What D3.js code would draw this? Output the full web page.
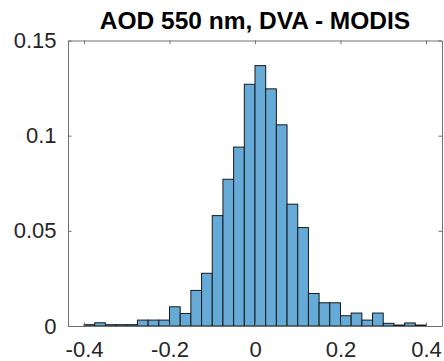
<!DOCTYPE html>
<html>
<head>
<meta charset="utf-8">
<script src="https://cdn.jsdelivr.net/npm/d3@7"></script>
<style>
  body { margin: 0; background: #fff; }
  text { font-family: "Liberation Sans", Arial, sans-serif; }
</style>
</head>
<body>
<svg id="chart"></svg>
<script>
"use strict";

// ---- data ----
const binEdges = [-0.4, -0.375, -0.35, -0.325, -0.3, -0.275, -0.25, -0.225, -0.2,
  -0.175, -0.15, -0.125, -0.1, -0.075, -0.05, -0.025, 0, 0.025, 0.05, 0.075, 0.1,
  0.125, 0.15, 0.175, 0.2, 0.225, 0.25, 0.275, 0.3, 0.325, 0.35, 0.375, 0.4];
const binValues = [0.0007, 0.0017, 0.0007, 0.0007, 0.0007, 0.0031, 0.0031, 0.0031,
  0.0101, 0.0066, 0.0187, 0.0277, 0.0580, 0.0771, 0.0940, 0.1270, 0.1368, 0.1246,
  0.1057, 0.0640, 0.0517, 0.0171, 0.0122, 0.0122, 0.0054, 0.0068, 0.0031, 0.0068,
  0.0014, 0.0005, 0.0016, 0.0005];
const xTicks = [-0.4, -0.2, 0, 0.2, 0.4];
const yTicks = [0, 0.05, 0.1, 0.15];
const titleText = "AOD 550 nm, DVA - MODIS";

// ---- layout ----
const W = 444, H = 361;
const box = { left: 68, right: 442, top: 40.5, bottom: 326 };

const svg = d3.select("#chart").attr("width", W).attr("height", H);

const x = d3.scaleLinear().domain([-0.4375, 0.4375]).range([box.left, box.right]);
const y = d3.scaleLinear().domain([0, 0.15]).range([box.bottom, box.top]);

const bins = binValues.map((v, i) => ({ x0: binEdges[i], x1: binEdges[i + 1], v }));

// bars
svg.append("g").selectAll("rect")
  .data(bins)
  .enter().append("rect")
  .attr("x", d => x(d.x0))
  .attr("y", d => y(d.v))
  .attr("width", d => x(d.x1) - x(d.x0))
  .attr("height", d => y(0) - y(d.v))
  .attr("fill", "#66AAD7")
  .attr("stroke", "#1a1a1a")
  .attr("stroke-width", 1);

// axes (MATLAB style: ticks inside, box on)
const axisColor = "#707070";
const tickLen = 3.5;

const xb = svg.append("g").attr("transform", `translate(0,${box.bottom})`)
  .call(d3.axisBottom(x).tickValues(xTicks).tickSizeInner(-tickLen).tickSizeOuter(0)
    .tickPadding(tickLen + 12).tickFormat(d => d3.format("")(d).replace("−", "-")));
const xt = svg.append("g").attr("transform", `translate(0,${box.top})`)
  .call(d3.axisTop(x).tickValues(xTicks).tickSizeInner(-tickLen).tickSizeOuter(0).tickFormat(""));
const yl = svg.append("g").attr("transform", `translate(${box.left},0)`)
  .call(d3.axisLeft(y).tickValues(yTicks).tickSizeInner(-tickLen).tickSizeOuter(0)
    .tickPadding(tickLen + 8).tickFormat(d => d3.format("")(d)));
const yr = svg.append("g").attr("transform", `translate(${box.right},0)`)
  .call(d3.axisRight(y).tickValues(yTicks).tickSizeInner(-tickLen).tickSizeOuter(0).tickFormat(""));

[xb, xt, yl, yr].forEach(g => {
  g.select(".domain").attr("stroke", axisColor);
  g.selectAll(".tick line").attr("stroke", axisColor);
  g.selectAll(".tick text")
    .attr("fill", "#262626")
    .style("font-size", "22px")
    .style("font-family", "'Liberation Sans', Arial, sans-serif");
});

// title
svg.append("text")
  .attr("x", (box.left + box.right) / 2)
  .attr("y", 29)
  .attr("text-anchor", "middle")
  .style("font-size", "24.5px")
  .style("font-weight", "bold")
  .attr("fill", "#000")
  .text(titleText);
</script>
</body>
</html>
